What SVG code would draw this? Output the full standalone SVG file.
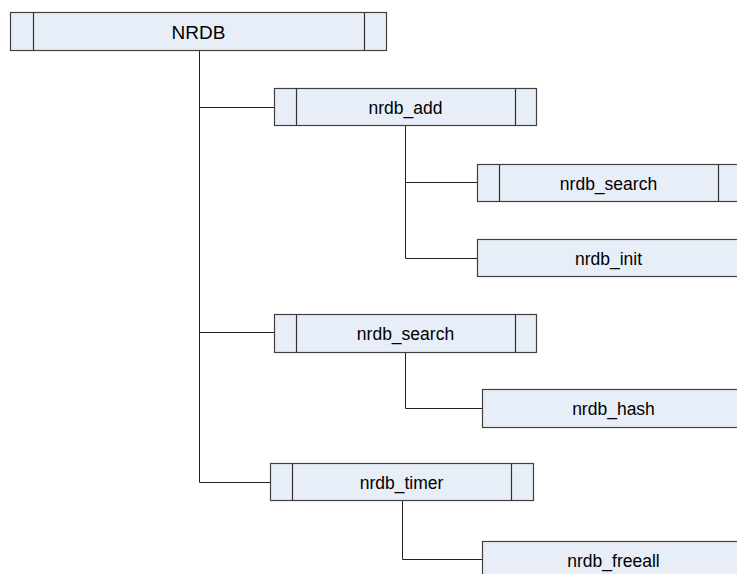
<svg xmlns="http://www.w3.org/2000/svg" width="737" height="574" viewBox="0 0 737 574">
  <style>
    .box { fill: #e8eef8; stroke: #404040; stroke-width: 1.2; }
    .div { stroke: #303030; stroke-width: 1.2; }
    .lbl { font-family: "Liberation Sans", Arial, sans-serif; font-size: 17.5px; fill: #000; text-anchor: middle; }
    .root { font-size: 19px; }
    .wire { fill: none; stroke: #202020; stroke-width: 1; }
  </style>
  <rect width="737" height="574" fill="#ffffff"/>

  <g id="connectors">
    <path class="wire" d="M199.5 51 V482.5 M199.5 107.5 H274 M199.5 332.5 H274 M199.5 482.5 H270"/>
    <path class="wire" d="M405.5 126 V258.5 M405.5 182.5 H477 M405.5 258.5 H477"/>
    <path class="wire" d="M405.5 352 V408.5 H482"/>
    <path class="wire" d="M402.5 501 V559.5 H482"/>
  </g>

  <g id="nrdb">
    <rect class="box" x="10.5" y="12.5" width="376" height="38"/>
    <line class="div" x1="33.5" y1="12.5" x2="33.5" y2="50.5"/>
    <line class="div" x1="364.5" y1="12.5" x2="364.5" y2="50.5"/>
    <text class="lbl root" x="198.5" y="38.5">NRDB</text>
  </g>

  <g id="nrdb_add">
    <rect class="box" x="274.5" y="88.5" width="262" height="37"/>
    <line class="div" x1="296.5" y1="88.5" x2="296.5" y2="125.5"/>
    <line class="div" x1="515.5" y1="88.5" x2="515.5" y2="125.5"/>
    <text class="lbl" x="405.5" y="113.5">nrdb_add</text>
  </g>

  <g id="nrdb_add_search">
    <rect class="box" x="477.5" y="164.5" width="263" height="37"/>
    <line class="div" x1="499.5" y1="164.5" x2="499.5" y2="201.5"/>
    <line class="div" x1="718.5" y1="164.5" x2="718.5" y2="201.5"/>
    <text class="lbl" x="608.5" y="189.5">nrdb_search</text>
  </g>

  <g id="nrdb_init">
    <rect class="box" x="477.5" y="239.5" width="263" height="37"/>
    <text class="lbl" x="608.5" y="264.5">nrdb_init</text>
  </g>

  <g id="nrdb_search">
    <rect class="box" x="274.5" y="314.5" width="262" height="38"/>
    <line class="div" x1="296.5" y1="314.5" x2="296.5" y2="352.5"/>
    <line class="div" x1="515.5" y1="314.5" x2="515.5" y2="352.5"/>
    <text class="lbl" x="405.5" y="339.5">nrdb_search</text>
  </g>

  <g id="nrdb_hash">
    <rect class="box" x="482.5" y="389.5" width="263" height="38"/>
    <text class="lbl" x="613.5" y="414.5">nrdb_hash</text>
  </g>

  <g id="nrdb_timer">
    <rect class="box" x="270.5" y="463.5" width="263" height="37"/>
    <line class="div" x1="292.5" y1="463.5" x2="292.5" y2="500.5"/>
    <line class="div" x1="511.5" y1="463.5" x2="511.5" y2="500.5"/>
    <text class="lbl" x="401.5" y="488.5">nrdb_timer</text>
  </g>

  <g id="nrdb_freeall">
    <rect class="box" x="482.5" y="541.5" width="263" height="38"/>
    <text class="lbl" x="613.5" y="566.5">nrdb_freeall</text>
  </g>
</svg>
